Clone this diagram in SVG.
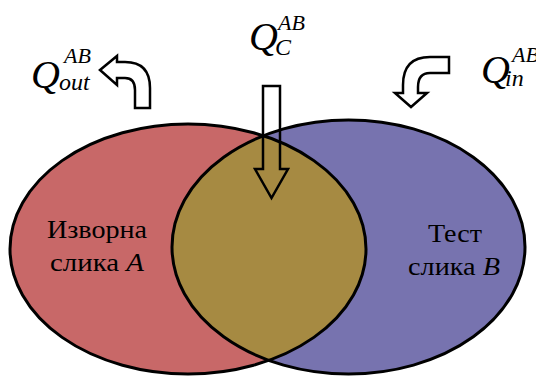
<svg xmlns="http://www.w3.org/2000/svg" width="536" height="376" viewBox="0 0 536 376">
<style>
.q{font-family:"Liberation Serif",serif;font-style:italic;fill:#000}
.t{font-family:"Liberation Serif","DejaVu Serif",serif;fill:#000;font-size:26px;text-anchor:middle}
.out{fill:none;stroke:#000;stroke-width:3}
.arr{fill:none;stroke:#000;stroke-width:2.5;stroke-linejoin:miter}
</style>
<defs>
<clipPath id="clipA"><ellipse cx="188" cy="249" rx="178" ry="125"/></clipPath>
</defs>
<rect width="536" height="376" fill="#fff"/>
<g id="imageA"><ellipse cx="188" cy="249" rx="178" ry="125" fill="#C86868"/></g>
<g id="imageB"><ellipse cx="348.5" cy="247" rx="176.5" ry="127" fill="#7773AF"/></g>
<g id="intersection"><ellipse cx="348.5" cy="247" rx="176.5" ry="127" fill="#A68A42" clip-path="url(#clipA)"/></g>
<g id="outlines">
<ellipse class="out" cx="188" cy="249" rx="178" ry="125"/>
<ellipse class="out" cx="348.5" cy="247" rx="176.5" ry="127"/>
</g>
<g id="labelA"><text class="t" x="97" y="238" textLength="100" lengthAdjust="spacingAndGlyphs">Изворна</text><text class="t" x="97" y="271" textLength="94" lengthAdjust="spacingAndGlyphs">слика <tspan font-style="italic">A</tspan></text></g>
<g id="labelB"><text class="t" x="455" y="242" textLength="54" lengthAdjust="spacingAndGlyphs">Тест</text><text class="t" x="454" y="275" textLength="92" lengthAdjust="spacingAndGlyphs">слика <tspan font-style="italic">B</tspan></text></g>
<g id="connectors">
<path id="arrowOut" class="arr" d="M100,70 L117,56 L117,62 L125,62 Q150,62 150,88 L150,108 L135,108 L135,90 Q135,78 125,78 L117,78 L117,85 Z"/>
<path id="arrowC" class="arr" d="M263,86 L280,86 L280,169 L288,169 L271.5,198 L255,169 L263,169 Z"/>
<path id="arrowIn" class="arr" d="M449,57 L430,57 Q403,57 403,85 L403,93 L395,93 L411,107 L427,93 L418,93 L418,87 Q418,73 430,73 L449,73 Z"/>
</g>
<g id="labelQout"><text class="q" x="31" y="88" font-size="40">Q</text><text class="q" x="64" y="63" font-size="22">AB</text><text class="q" x="59" y="90" font-size="24">out</text></g>
<g id="labelQc"><text class="q" x="249" y="50" font-size="40">Q</text><text class="q" x="278" y="30" font-size="22">AB</text><text class="q" x="275" y="55" font-size="24">C</text></g>
<g id="labelQin"><text class="q" x="481" y="83" font-size="40">Q</text><text class="q" x="512" y="62" font-size="22">AB</text><text class="q" x="505" y="86" font-size="24">in</text></g>
</svg>
